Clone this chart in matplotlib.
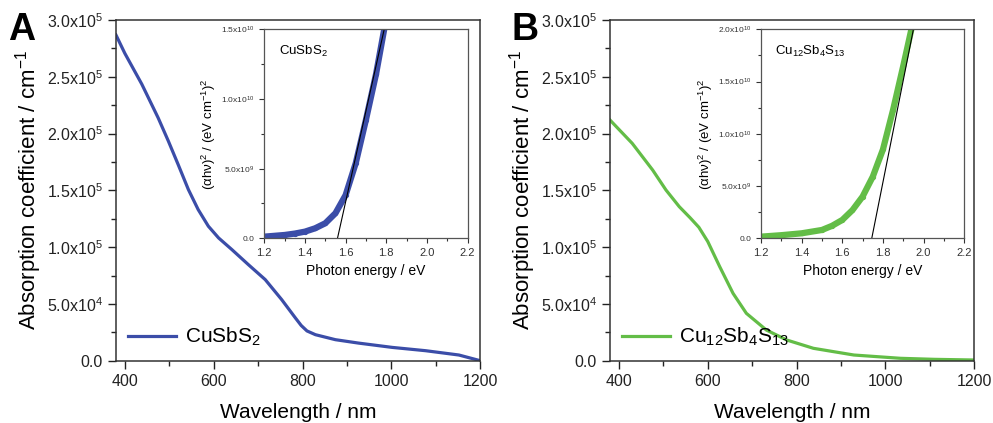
import matplotlib
matplotlib.use("Agg")
import matplotlib.pyplot as plt
from matplotlib.ticker import MultipleLocator, FixedLocator, FuncFormatter

plt.rcParams['font.family'] = ['Liberation Sans', 'DejaVu Sans']
plt.rcParams['mathtext.fontset'] = 'custom'
plt.rcParams['mathtext.rm'] = 'Liberation Sans'
plt.rcParams['mathtext.it'] = 'Liberation Sans:italic'
plt.rcParams['mathtext.default'] = 'regular'

# main spectra
wl_a = [380, 400, 438, 475, 498, 520, 543, 565, 588, 611, 641, 678, 716, 753, 784, 797, 810, 829, 874, 926, 1002, 1077, 1152, 1200]
abs_a = [286800, 270600, 243600, 213800, 193300, 172700, 150700, 133100, 118400, 108100, 97800, 84600,
         71400, 53800, 37600, 31000, 26200, 22900, 18500, 15500, 11700, 8800, 5000, 0]

wl_b = [380, 430, 476, 506, 536, 560, 580, 600, 627, 657, 687, 732, 778, 838, 929, 1034, 1110, 1200]
abs_b = [211900, 191400, 167900, 150300, 135600, 126000, 117500, 105000, 82800, 59300, 41700, 27000, 18200,
         10900, 5000, 2100, 1200, 600]

# Tauc plots (insets)
e_a = [1.20, 1.25, 1.30, 1.35, 1.40, 1.45, 1.50, 1.55, 1.60, 1.65, 1.70, 1.75, 1.79]
tauc_a = [1.2e8, 1.8e8, 2.4e8, 3.4e8, 4.8e8, 7.2e8, 1.08e9, 1.8e9, 3.1e9, 5.4e9, 8.5e9, 1.18e10, 1.5e10]
fit_a_e = [1.56, 1.79]
fit_a_y = [0, 1.5e10]

e_b = [1.20, 1.30, 1.40, 1.50, 1.55, 1.60, 1.65, 1.70, 1.75, 1.80, 1.85, 1.90, 1.94]
tauc_b = [1.6e8, 3.0e8, 4.8e8, 8.0e8, 1.2e9, 1.76e9, 2.7e9, 4.0e9, 5.9e9, 8.5e9, 1.23e10, 1.65e10, 2.0e10]
fit_b_e = [1.745, 1.95]
fit_b_y = [0, 2.0e10]

blue = '#3b4da8'
green = '#63bd47'


def sci_fmt(v, pos):
    if v == 0:
        return '0.0'
    exp = len(str(int(round(v)))) - 1
    mant = v / 10 ** exp
    return '%.1fx10$^{%d}$' % (mant, exp)


fig = plt.figure(figsize=(9.93, 4.23), dpi=100)

panels = [
    (0.1168, 'A', 0.022, wl_a, abs_a, blue, 'CuSbS$_2$', 0.2662, e_a, tauc_a, fit_a_e, fit_a_y, 1.5e10,
     [0, 5e9, 1e10, 1.5e10]),
    (0.6143, 'B', 0.529, wl_b, abs_b, green, 'Cu$_{12}$Sb$_4$S$_{13}$', 0.7664, e_b, tauc_b, fit_b_e, fit_b_y,
     2.0e10, [0, 5e9, 1e10, 1.5e10, 2e10]),
]

for left, letter, lx, wl, ab, col, name, ileft, en, tc, fe, fy, ymax, iticks in panels:
    ax = fig.add_axes([left, 0.1473, 0.3668, 0.8054])
    ax.plot(wl, ab, color=col, lw=2.3, label=name)
    ax.set_xlim(380, 1200)
    ax.set_ylim(0, 3.0e5)
    ax.xaxis.set_major_locator(MultipleLocator(200))
    ax.xaxis.set_minor_locator(MultipleLocator(100))
    ax.yaxis.set_major_locator(MultipleLocator(5e4))
    ax.yaxis.set_minor_locator(MultipleLocator(2.5e4))
    ax.yaxis.set_major_formatter(FuncFormatter(sci_fmt))
    ax.tick_params(which='both', direction='out', labelsize=11.5, colors='#222222')
    ax.tick_params(which='major', length=6, width=1)
    ax.tick_params(which='minor', length=3.5, width=1)
    for s in ax.spines.values():
        s.set_color('#333333')
        s.set_linewidth(1.1)
    ax.set_xlabel('Wavelength / nm', fontsize=15, labelpad=10)
    ax.set_ylabel('Absorption coefficient / cm$^{-1}$', fontsize=16, labelpad=2)
    ax.legend(loc='lower left', frameon=False, fontsize=15, handlelength=2.3,
              borderaxespad=0.2, handletextpad=0.4, bbox_to_anchor=(0.0, 0.0))
    fig.text(lx, 0.93, letter, fontsize=27, fontweight='bold', ha='center', va='center')

    ins = fig.add_axes([ileft, 0.4366, 0.2046, 0.4941])
    ins.plot(en, tc, color=col, lw=4.5, solid_capstyle='round')
    ins.plot(en, tc, 'o', mfc='none', mec=col, ms=3, mew=0.8)
    ins.plot(fe, fy, color='black', lw=0.8)
    ins.set_xlim(1.2, 2.2)
    ins.set_ylim(0, ymax)
    ins.xaxis.set_major_locator(MultipleLocator(0.2))
    ins.xaxis.set_minor_locator(MultipleLocator(0.1))
    ins.yaxis.set_major_locator(FixedLocator(iticks))
    ins.yaxis.set_minor_locator(MultipleLocator(2.5e9))
    ins.yaxis.set_major_formatter(FuncFormatter(sci_fmt))
    ins.xaxis.set_major_formatter(FuncFormatter(lambda v, p: '%.1f' % v))
    ins.tick_params(axis='x', which='both', direction='out', labelsize=8, colors='#333333')
    ins.tick_params(axis='y', which='both', direction='out', labelsize=6, colors='#333333')
    ins.tick_params(which='major', length=3.5, width=0.8)
    ins.tick_params(which='minor', length=2, width=0.8)
    for s in ins.spines.values():
        s.set_color('#555555')
        s.set_linewidth(0.9)
    ins.set_xlabel('Photon energy / eV', fontsize=10, labelpad=4)
    ins.set_ylabel(r'$(\alpha h\nu)^2$ / (eV cm$^{-1}$)$^2$', fontsize=9.5, labelpad=2)
    ins.text(0.07, 0.93, name, transform=ins.transAxes, fontsize=9.5, va='top', ha='left')

fig.savefig('out.png', dpi=100)
